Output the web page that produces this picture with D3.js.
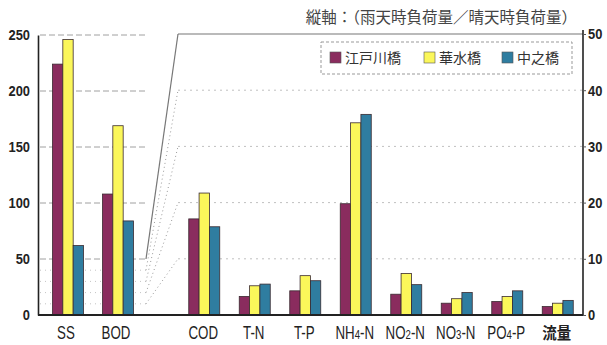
<!DOCTYPE html>
<html>
<head>
<meta charset="utf-8">
<script src="https://cdn.jsdelivr.net/npm/d3@7"></script>
<style>
  html, body { margin: 0; padding: 0; background: #fff; }
  svg { display: block; }
</style>
</head>
<body>
<svg id="chart" width="607" height="345"></svg>
<script>
// Series (bridges) and colours
const seriesNames = ["江戸川橋", "華水橋", "中之橋"];
const seriesColors = ["#8a2c5e", "#fbf75a", "#2f7da0"];

// Left panel: SS and BOD on the 0–250 axis
const leftCats = ["SS", "BOD"];
const leftEdogawa = [224, 108];
const leftKasui = [246, 169];
const leftNaka = [62, 84];

// Right panel: remaining items on the 0–50 axis
const rightCats = ["COD", "T-N", "T-P", "NH4-N", "NO2-N", "NO3-N", "PO4-P", "流量"];
const rightEdogawa = [17.1, 3.3, 4.3, 19.8, 3.7, 2.1, 2.4, 1.5];
const rightKasui = [21.7, 5.2, 7.0, 34.2, 7.4, 2.9, 3.3, 2.1];
const rightNaka = [15.7, 5.5, 6.1, 35.7, 5.4, 4.0, 4.3, 2.6];

// Axis ticks
const leftTicks = [0, 50, 100, 150, 200, 250];
const rightTicks = [0, 10, 20, 30, 40, 50];
const fanValues = [10, 20, 30, 40];

const titleText = "縦軸：（雨天時負荷量／晴天時負荷量）";

const svg = d3.select("#chart");
const numFont = "'Liberation Sans', Arial, sans-serif";
const cjkFont = "'Noto Sans CJK JP', 'Noto Sans CJK SC', sans-serif";

const y0 = 315;
const yL = d3.scaleLinear().domain([0, 250]).range([y0, 35]);
const yR = d3.scaleLinear().domain([0, 50]).range([y0, 34]);

const xL = d3.scaleBand().domain(leftCats).range([43, 143]);
const xR = d3.scaleBand().domain(rightCats).range([179, 583]);
const groupW = 31;
const xs = d3.scaleBand().domain(seriesNames).range([0, groupW]);

const leftAxisX = 38, rightAxisX = 583, fanL = 146, fanR = 178;

// Left panel gridlines
const grid = svg.append("g");
grid.selectAll("line.lg").data(leftTicks.filter(d => d > 0)).join("line")
  .attr("x1", 40).attr("x2", 146)
  .attr("y1", d => yL(d)).attr("y2", d => yL(d))
  .attr("stroke", "#a0a0a0").attr("stroke-width", 1)
  .attr("stroke-dasharray", "6,3");
grid.selectAll("line.lf").data(fanValues).join("line")
  .attr("x1", 40).attr("x2", fanL)
  .attr("y1", d => yL(d)).attr("y2", d => yL(d))
  .attr("stroke", "#c4c4c4").attr("stroke-width", 1)
  .attr("stroke-dasharray", "1,4");

// Right panel gridlines
grid.selectAll("line.rg").data(fanValues).join("line")
  .attr("x1", fanR).attr("x2", rightAxisX)
  .attr("y1", d => yR(d)).attr("y2", d => yR(d))
  .attr("stroke", "#c0c0c0").attr("stroke-width", 1)
  .attr("stroke-dasharray", "2,4");

// Fan lines linking the 0–50 range of the left axis to the right panel
grid.selectAll("line.fan").data(fanValues).join("line")
  .attr("x1", fanL).attr("x2", fanR)
  .attr("y1", d => yL(d)).attr("y2", d => yR(d))
  .attr("stroke", "#9a9a9a").attr("stroke-width", 1)
  .attr("stroke-dasharray", "1,3");
grid.append("line")
  .attr("x1", fanL).attr("x2", fanR)
  .attr("y1", yL(50)).attr("y2", yR(50))
  .attr("stroke", "#777").attr("stroke-width", 1.2);
grid.append("line")
  .attr("x1", fanR).attr("x2", rightAxisX)
  .attr("y1", yR(50)).attr("y2", yR(50))
  .attr("stroke", "#777").attr("stroke-width", 1.2);

// Bars
function drawGroup(cats, xScale, yScale, valuesBySeries) {
  const rows = [];
  cats.forEach((c, i) => {
    seriesNames.forEach((s, j) => rows.push({ cat: c, s, j, v: valuesBySeries[j][i] }));
  });
  svg.append("g").selectAll("rect").data(rows).join("rect")
    .attr("x", d => xScale(d.cat) + xScale.bandwidth() / 2 - groupW / 2 + xs(d.s))
    .attr("width", xs.bandwidth())
    .attr("y", d => yScale(d.v))
    .attr("height", d => y0 - yScale(d.v))
    .attr("fill", d => seriesColors[d.j])
    .attr("stroke", "#3a2a30").attr("stroke-width", 0.8);
}
drawGroup(leftCats, xL, yL, [leftEdogawa, leftKasui, leftNaka]);
drawGroup(rightCats, xR, yR, [rightEdogawa, rightKasui, rightNaka]);

// Axes (tick labels condensed horizontally)
const sx = 0.86;
const leftAxis = d3.axisLeft(yL).tickValues(leftTicks).tickSize(0);
const gl = svg.append("g").attr("transform", `translate(${leftAxisX},0)`).call(leftAxis);
gl.select(".domain").attr("stroke", "#222").attr("stroke-width", 1.6);
gl.selectAll("text").attr("font-family", numFont).attr("font-weight", "bold")
  .attr("font-size", 15).attr("fill", "#222")
  .attr("x", -8 / sx).attr("transform", `scale(${sx},1)`);

const rightAxis = d3.axisRight(yR).tickValues(rightTicks).tickSize(3);
const gr = svg.append("g").attr("transform", `translate(${rightAxisX},0)`).call(rightAxis);
gr.select(".domain").attr("stroke", "#222").attr("stroke-width", 1.6).attr("d", `M0,30V${y0}`);
gr.selectAll(".tick line").attr("stroke", "#555");
gr.selectAll("text").attr("font-family", numFont).attr("font-weight", "bold")
  .attr("font-size", 15).attr("fill", "#222")
  .attr("x", 5 / sx).attr("transform", `scale(${sx},1)`);

// Baseline
svg.append("line")
  .attr("x1", leftAxisX).attr("x2", rightAxisX)
  .attr("y1", y0).attr("y2", y0)
  .attr("stroke", "#222").attr("stroke-width", 1.8);

// Category labels (chemical subscripts drawn smaller)
function label(g, name, cx) {
  const t = g.append("text")
    .attr("text-anchor", "middle")
    .attr("font-size", 18).attr("fill", "#222");
  const m = name.match(/^([A-Z]+)(\d)(.*)$/);
  if (/[A-Z]/.test(name)) {
    t.attr("font-family", numFont).attr("transform", `translate(${cx},339) scale(0.74,1)`);
    if (m) {
      t.append("tspan").text(m[1]);
      t.append("tspan").attr("font-size", 13).text(m[2]);
      t.append("tspan").text(m[3]);
    } else {
      t.text(name);
    }
  } else {
    t.attr("font-family", cjkFont).attr("font-weight", "bold").attr("font-size", 16)
      .attr("transform", `translate(${cx},339) scale(0.9,1)`).text(name);
  }
}
const lab = svg.append("g");
leftCats.forEach(c => label(lab, c, xL(c) + xL.bandwidth() / 2 - 2));
rightCats.forEach(c => label(lab, c, xR(c) + xR.bandwidth() / 2 - 1));

// Title
svg.append("text")
  .attr("x", 577).attr("y", 23)
  .attr("text-anchor", "end")
  .attr("font-family", cjkFont).attr("font-size", 15.5)
  .attr("fill", "#444")
  .text(titleText);

// Legend
const leg = svg.append("g");
leg.append("rect")
  .attr("x", 321).attr("y", 42).attr("width", 251).attr("height", 32)
  .attr("fill", "#fff").attr("stroke", "#999").attr("stroke-width", 1)
  .attr("stroke-dasharray", "3,2");
const legX = [330, 424, 502];
seriesNames.forEach((s, i) => {
  leg.append("rect")
    .attr("x", legX[i]).attr("y", 52).attr("width", 11).attr("height", 11)
    .attr("fill", seriesColors[i]).attr("stroke", "#555").attr("stroke-width", 0.6);
  leg.append("text")
    .attr("x", legX[i] + 15).attr("y", 63)
    .attr("font-family", cjkFont).attr("font-size", 14)
    .attr("fill", "#333")
    .text(s);
});
</script>
</body>
</html>
